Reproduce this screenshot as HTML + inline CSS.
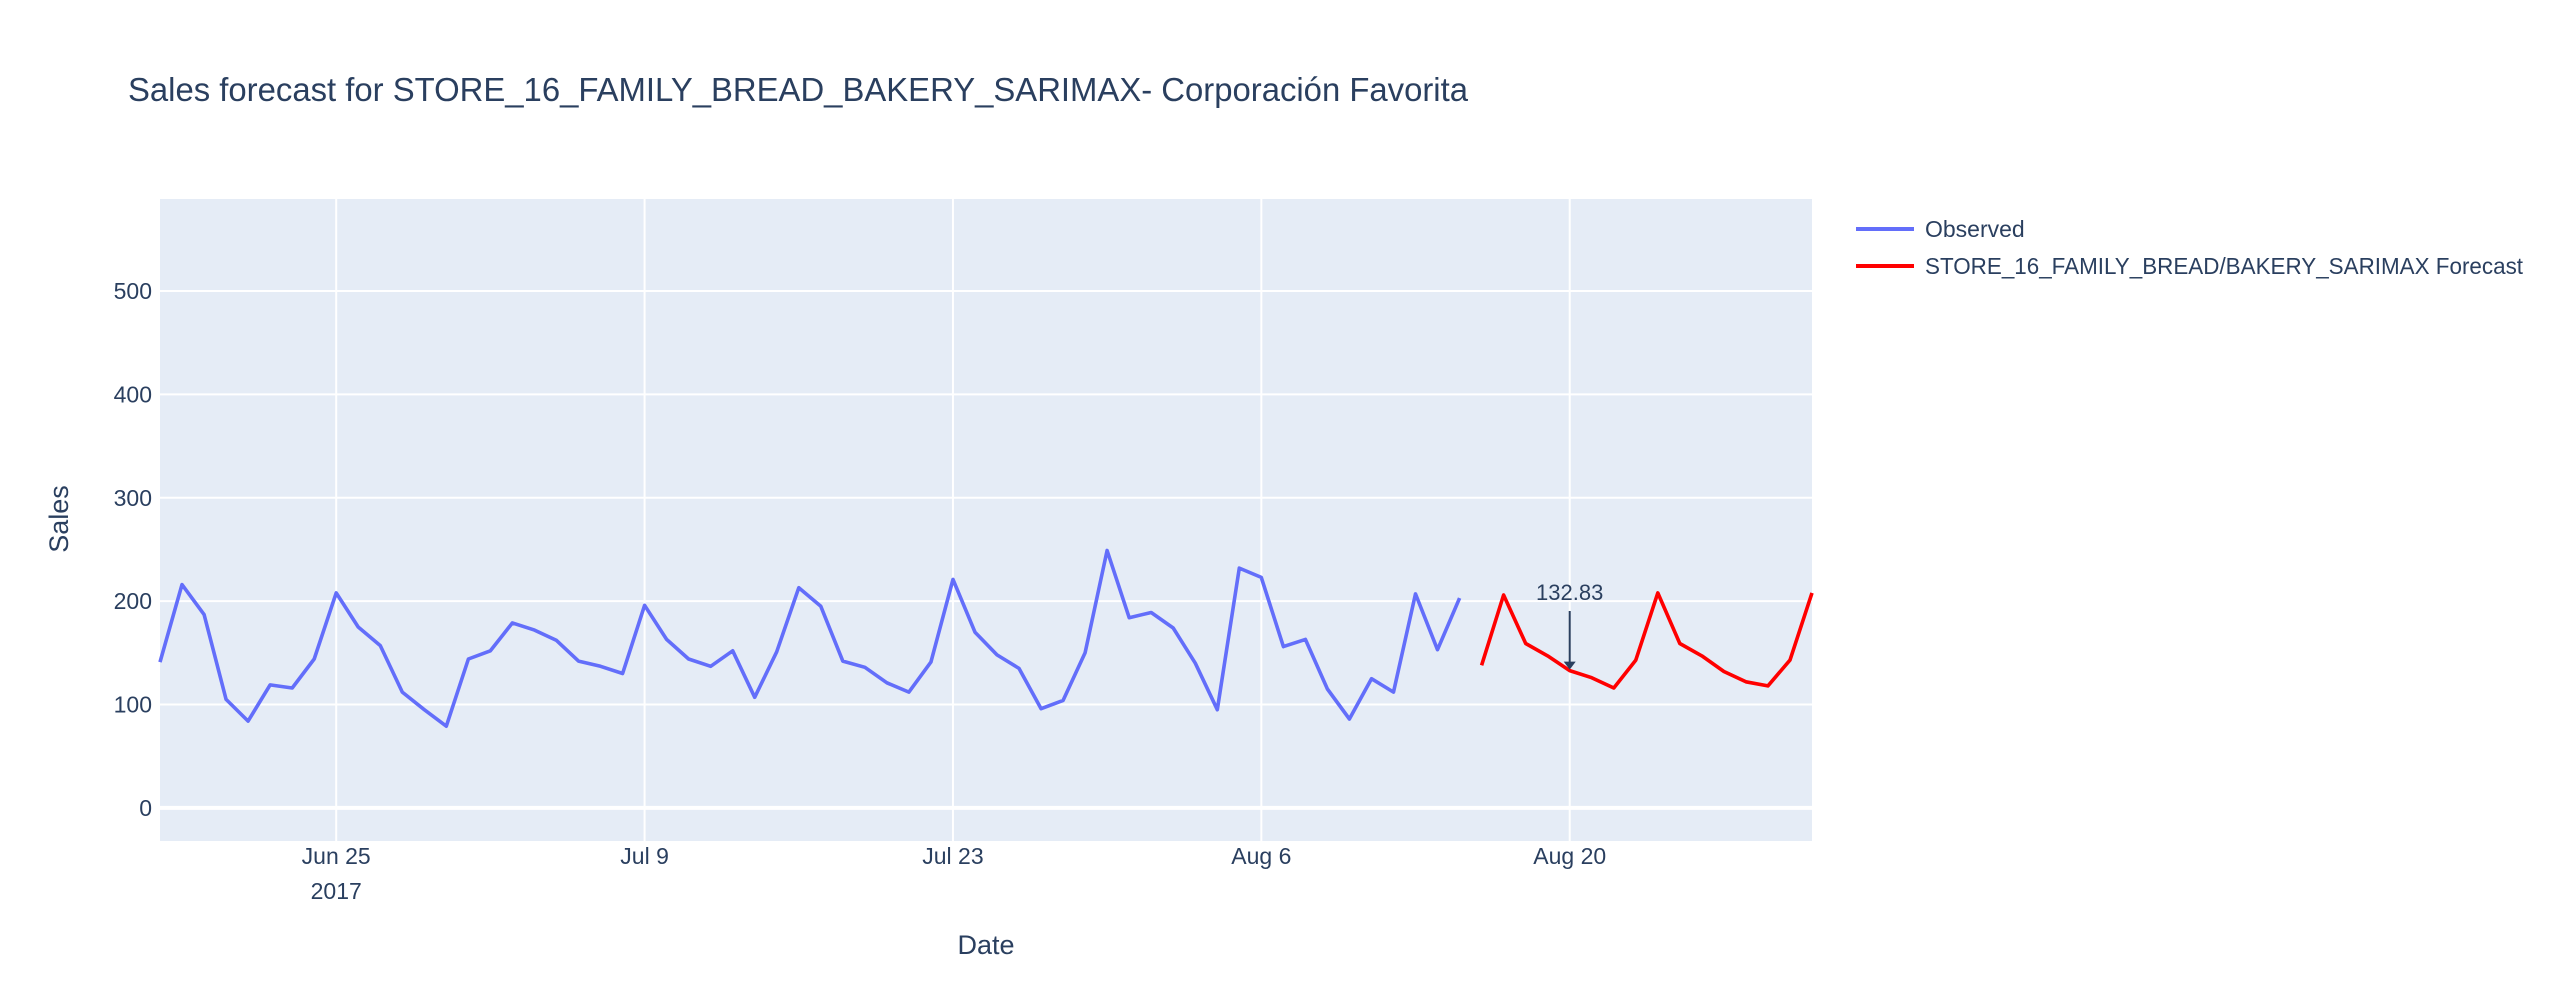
<!DOCTYPE html>
<html><head><meta charset="utf-8"><style>
html,body{margin:0;padding:0;background:#fff;}
svg{display:block;font-family:"Liberation Sans",sans-serif;}
</style></head><body>
<svg id="chart" width="2560" height="1000" viewBox="0 0 2560 1000">
<rect x="0" y="0" width="2560" height="1000" fill="#fff"/>
<text x="128" y="101" font-size="33" fill="#2a3f5f" textLength="1340" lengthAdjust="spacingAndGlyphs">Sales forecast for STORE_16_FAMILY_BREAD_BAKERY_SARIMAX- Corporación Favorita</text>
<rect x="160" y="199" width="1652" height="642" fill="#E5ECF6"/>
<g id="grid"></g>
<g id="series"></g>
<g id="ticks"></g>
<text x="986" y="954" font-size="27" fill="#2a3f5f" text-anchor="middle">Date</text>
<text x="0" y="0" font-size="27" fill="#2a3f5f" text-anchor="middle" transform="translate(68,519) rotate(-90)">Sales</text>
<g>
<line x1="1856" y1="229" x2="1914" y2="229" stroke="#636efa" stroke-width="4"/>
<text x="1925" y="237" font-size="23" fill="#2a3f5f">Observed</text>
<line x1="1856" y1="266" x2="1914" y2="266" stroke="red" stroke-width="4"/>
<text x="1925" y="274" font-size="23" fill="#2a3f5f" textLength="598" lengthAdjust="spacingAndGlyphs">STORE_16_FAMILY_BREAD/BAKERY_SARIMAX Forecast</text>
</g>
<g id="annot"></g>
</svg>
<script>
const observedValues = [141,216,187,105,84,119,116,144,208,175,157,112,95,79,144,152,179,172,162,142,137,130,196,163,144,137,152,107,151,213,195,142,136,121,112,141,221,170,148,135,96,104,150,249,184,189,174,140,95,232,223,156,163,115,86,125,112,207,153,203];
const forecastValues = [138,206,159,147,132.83,126,116,143,208,159,147,132,122,118,143,208];
const observedStart = "2017-06-17";
const forecastStart = "2017-08-16";
const yTicks = [0,100,200,300,400,500];
const xTickDates = ["2017-06-25","2017-07-09","2017-07-23","2017-08-06","2017-08-20"];
const xTickLabels = ["Jun 25","Jul 9","Jul 23","Aug 6","Aug 20"];
const annotationDate = "2017-08-20";
const annotationValue = 132.83;

const NS="http://www.w3.org/2000/svg";
const PL=160, PR=1812, PT=199, PB=841;
const X0=Date.parse("2017-06-17T00:00:00Z"), X1=Date.parse("2017-08-31T00:00:00Z");
const Y0=-32, Y1=589;
const DAY=86400000;
function xs(t){return PL+(t-X0)/(X1-X0)*(PR-PL);}
function xd(s){return xs(Date.parse(s+"T00:00:00Z"));}
function ys(v){return PB-(v-Y0)/(Y1-Y0)*(PB-PT);}
function mk(tag,attrs,parent){const e=document.createElementNS(NS,tag);for(const k in attrs)e.setAttribute(k,attrs[k]);parent.appendChild(e);return e;}
const grid=document.getElementById('grid'), ticks=document.getElementById('ticks'), series=document.getElementById('series'), annot=document.getElementById('annot');
xTickDates.forEach((d,i)=>{
  const x=xd(d);
  const l=mk('line',{x1:x,x2:x,y1:PT,y2:PB,stroke:'#fff','stroke-width':2},grid);
  
  
  const t=mk('text',{x:x,y:864,'font-size':23,fill:'#2a3f5f','text-anchor':'middle'},ticks);
  t.textContent=xTickLabels[i];
  
  
});
const yr=mk('text',{x:xd(xTickDates[0]),y:899,'font-size':23,fill:'#2a3f5f','text-anchor':'middle'},ticks);
yr.textContent="2017";


yTicks.forEach(v=>{
  const y=ys(v);
  const l=mk('line',{x1:PL,x2:PR,y1:y,y2:y,stroke:'#fff','stroke-width':v===0?4:2},grid);
  
  
  const t=mk('text',{x:152,y:y+8,'font-size':23,fill:'#2a3f5f','text-anchor':'end'},ticks);
  t.textContent=String(v);
  
  
});
function path(vals,start,color,name){
  const t0=Date.parse(start+"T00:00:00Z");
  const d=vals.map((v,i)=>(i?'L':'M')+xs(t0+i*DAY).toFixed(1)+','+ys(v).toFixed(1)).join(' ');
  const p=mk('path',{d:d,fill:'none',stroke:color,'stroke-width':3.6,'stroke-linejoin':'round'},series);
  
  
}
path(observedValues,observedStart,'#636efa','observed-line');
path(forecastValues,forecastStart,'red','forecast-line');
const ax=xd(annotationDate), ay=ys(annotationValue);
const al=mk('line',{x1:ax,x2:ax,y1:611,y2:ay-8,stroke:'#2a3f5f','stroke-width':2},annot);


const ah=mk('path',{d:`M${ax-6},${ay-9} L${ax+6},${ay-9} L${ax},${ay-1} Z`,fill:'#2a3f5f'},annot);


const at=mk('text',{x:ax,y:600,'font-size':22,fill:'#2a3f5f','text-anchor':'middle'},annot);
at.textContent=annotationValue.toFixed(2);


</script>
</body></html>
